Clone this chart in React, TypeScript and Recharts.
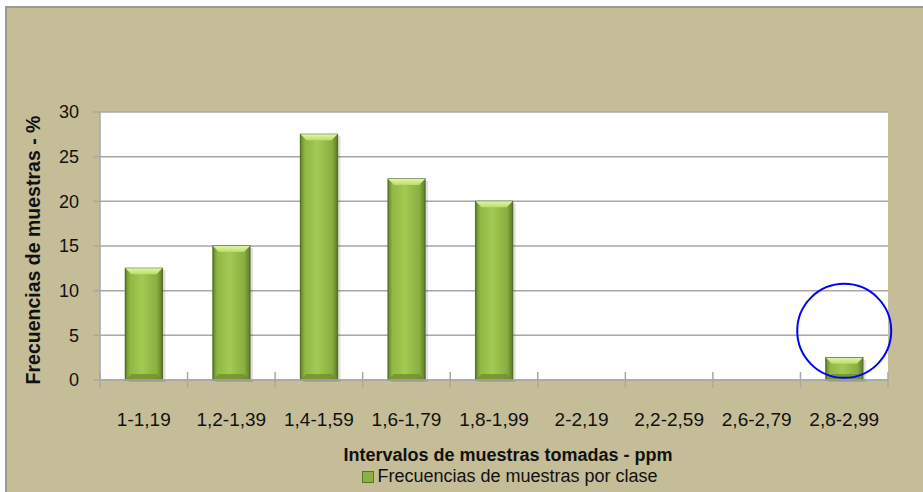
import { BarChart, Bar, XAxis, YAxis, CartesianGrid, Legend, ReferenceDot, Label } from 'recharts';

const intervals = ['1-1,19', '1,2-1,39', '1,4-1,59', '1,6-1,79', '1,8-1,99', '2-2,19', '2,2-2,59', '2,6-2,79', '2,8-2,99'];
const frequencies = [12.5, 15, 27.5, 22.5, 20, 0, 0, 0, 2.5];
const yTicks = [0, 5, 10, 15, 20, 25, 30];

const SERIES_NAME = 'Frecuencias de muestras por clase';
const FONT = "'Liberation Sans', Arial, sans-serif";
const TAN = '#c5bd98';
const GRID = '#a8a8a8';

const data = intervals.map((name, i) => ({ name, value: frequencies[i] }));

// bevelled green bar like the Excel 2007 style
function BevelBar(props: any) {
  const { x, y, width, height } = props;
  if (!height || height <= 0) return null;
  const b = Math.min(6, height / 2);
  return (
    <g>
      <rect x={x + 3} y={y + 2} width={width} height={height} fill="#000" opacity={0.12} />
      <rect x={x} y={y} width={width} height={height} fill="url(#barGrad)" stroke="#56702a" strokeWidth={1.3} />
      <polygon
        points={`${x},${y} ${x + width},${y} ${x + width - b},${y + b} ${x + b},${y + b}`}
        fill="url(#bevelGrad)"
      />
      <polygon
        points={`${x},${y + height} ${x + width},${y + height} ${x + width - b},${y + height - b} ${x + b},${y + height - b}`}
        fill="#6f8f2e"
        opacity={0.8}
      />
    </g>
  );
}

function CategoryTick(props: any) {
  const { x, y, payload, index } = props;
  const half = 788 / intervals.length / 2;
  return (
    <g>
      <line x1={x - half} x2={x - half} y1={y - 8} y2={y + 8} stroke={GRID} strokeWidth={1.5} />
      {index === intervals.length - 1 && (
        <line x1={x + half} x2={x + half} y1={y - 8} y2={y + 8} stroke={GRID} strokeWidth={1.5} />
      )}
      <text x={x} y={y + 46} textAnchor="middle" fontSize={19} fontFamily={FONT} fill="#111">
        {payload.value}
      </text>
    </g>
  );
}

function LegendContent() {
  return (
    <div style={{ display: 'flex', justifyContent: 'center', alignItems: 'center', fontFamily: FONT, fontSize: 18, color: '#111', paddingLeft: 72 }}>
      <span style={{ width: 10, height: 10, background: '#8db042', border: '1px solid #5b7426', marginRight: 3, display: 'inline-block' }} />
      <span>{SERIES_NAME}</span>
    </div>
  );
}

export default function App() {
  return (
    <div style={{ position: 'absolute', left: 0, top: 0, width: 923, height: 492, background: '#fff', overflow: 'hidden' }}>
      <div
        style={{
          position: 'absolute', left: 5, top: 6, right: 0, bottom: 0,
          background: TAN, borderTop: '2px solid #9a9a9a', borderLeft: '2px solid #9a9a9a',
        }}
      />
      <div style={{ position: 'absolute', left: 0, top: 0 }}>
        <BarChart
          width={923}
          height={492}
          data={data}
          margin={{ top: 112, right: 35, bottom: 0, left: 60 }}
          barCategoryGap="29%"
        >
          <defs>
            <linearGradient id="barGrad" x1="0" y1="0" x2="1" y2="0">
              <stop offset="0%" stopColor="#67862a" />
              <stop offset="12%" stopColor="#90b842" />
              <stop offset="45%" stopColor="#a3ca52" />
              <stop offset="85%" stopColor="#8aae40" />
              <stop offset="100%" stopColor="#5f7d28" />
            </linearGradient>
            <linearGradient id="bevelGrad" x1="0" y1="0" x2="0" y2="1">
              <stop offset="0%" stopColor="#e2f5a6" />
              <stop offset="100%" stopColor="#b8dc6c" />
            </linearGradient>
          </defs>
          <CartesianGrid vertical={false} stroke={GRID} strokeWidth={1.5} fill="#fff" />
          <XAxis
            dataKey="name"
            height={86}
            tickSize={0}
            tickMargin={0}
            tickLine={false}
            axisLine={{ stroke: GRID, strokeWidth: 1.5 }}
            tick={<CategoryTick />}
            interval={0}
          >
            <Label
              value="Intervalos de muestras tomadas - ppm"
              position="insideBottom"
              offset={5}
              dx={14}
              style={{ fontFamily: FONT, fontSize: 18, fontWeight: 'bold', fill: '#111' }}
            />
          </XAxis>
          <YAxis
            width={40}
            domain={[0, 30]}
            ticks={yTicks}
            tickSize={7}
            tickMargin={14}
            axisLine={{ stroke: GRID, strokeWidth: 1.5 }}
            tickLine={{ stroke: GRID, strokeWidth: 1.5 }}
            tick={{ fontFamily: FONT, fontSize: 18, fill: '#111' }}
          >
            <Label
              value="Frecuencias de muestras - %"
              angle={-90}
              position="left"
              offset={27}
              dy={4}
              style={{ fontFamily: FONT, fontSize: 19.5, fontWeight: 'bold', fill: '#111', textAnchor: 'middle' }}
            />
          </YAxis>
          <Legend verticalAlign="bottom" height={26} content={<LegendContent />} />
          <Bar dataKey="value" name={SERIES_NAME} shape={<BevelBar />} isAnimationActive={false} />
          <ReferenceDot
            x="2,8-2,99"
            y={5.5}
            r={47}
            fill="none"
            stroke="#0000ff"
            strokeWidth={2}
            ifOverflow="visible"
          />
        </BarChart>
      </div>
    </div>
  );
}
